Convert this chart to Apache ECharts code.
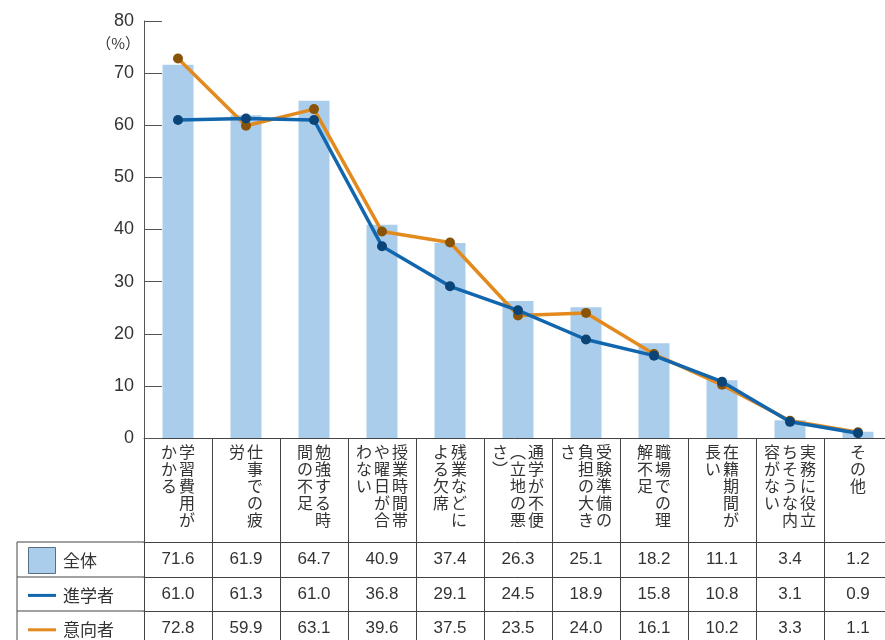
<!DOCTYPE html>
<html>
<head>
<meta charset="utf-8">
<script src="https://cdn.jsdelivr.net/npm/echarts@6/dist/echarts.min.js"></script>
<style>
  html, body { margin: 0; padding: 0; background: #fff; }
  #chart { width: 885px; height: 640px; }
</style>
</head>
<body>
<div id="chart"></div>
<script>
// categories (full text) and how each one is split into vertical columns, right to left
const categories = [
  '学習費用がかかる', '仕事での疲労', '勉強する時間の不足', '授業時間帯や曜日が合わない',
  '残業などによる欠席', '通学が不便（立地の悪さ）', '受験準備の負担の大きさ', '職場での理解不足',
  '在籍期間が長い', '実務に役立ちそうな内容がない', 'その他'
];
const labelColumns = [
  ['学習費用が', 'かかる'],
  ['仕事での疲', '労'],
  ['勉強する時', '間の不足'],
  ['授業時間帯', 'や曜日が合', 'わない'],
  ['残業などに', 'よる欠席'],
  ['通学が不便', '︵立地の悪', 'さ︶'],
  ['受験準備の', '負担の大き', 'さ'],
  ['職場での理', '解不足'],
  ['在籍期間が', '長い'],
  ['実務に役立', 'ちそうな内', '容がない'],
  ['その他']
];
const seriesNames = ['全体', '進学者', '意向者'];
const total = [71.6, 61.9, 64.7, 40.9, 37.4, 26.3, 25.1, 18.2, 11.1, 3.4, 1.2];
const students = [61.0, 61.3, 61.0, 36.8, 29.1, 24.5, 18.9, 15.8, 10.8, 3.1, 0.9];
const intending = [72.8, 59.9, 63.1, 39.6, 37.5, 23.5, 24.0, 16.1, 10.2, 3.3, 1.1];
const yTicks = [0, 10, 20, 30, 40, 50, 60, 70, 80];

const tableRows = [total, students, intending];

const lineColor = '#444';
const textColor = '#333';
const cjk = "'Noto Sans CJK JP'";
const num = "'Liberation Sans', 'Noto Sans CJK JP'";

const myChart = echarts.init(document.getElementById('chart'));

// build vertical text as rows of fixed-width rich tokens
function verticalLabel(value, index) {
  const cols = labelColumns[index];
  const rows = Math.max.apply(null, cols.map(c => c.length));
  const lines = [];
  for (let r = 0; r < rows; r++) {
    let line = '';
    for (let c = cols.length - 1; c >= 0; c--) {
      const ch = cols[c][r] || '　';
      line += '{c|' + ch + '}';
    }
    lines.push(line);
  }
  return lines.join('\n');
}

const tableAxes = tableRows.map((row, i) => ({
  type: 'category',
  gridIndex: 0,
  position: 'bottom',
  offset: [104, 139, 173][i],
  data: categories,
  axisLine: { show: true, lineStyle: { color: lineColor, width: 1 } },
  axisTick: { show: true, interval: 0, length: 35, lineStyle: { color: lineColor } },
  axisLabel: {
    interval: 0,
    margin: 9,
    hideOverlap: false,
    fontSize: 17,
    color: textColor,
    fontFamily: num,
    formatter: (v, idx) => row[idx].toFixed(1)
  },
  splitLine: { show: false }
}));

myChart.setOption({
  animation: false,
  grid: {
    left: 144,
    right: -7,
    top: 21,
    bottom: 202,
    containLabel: false,
    outerBoundsMode: 'none'
  },
  legend: {
    orient: 'vertical',
    left: 28,
    top: 547,
    height: 110,
    padding: 0,
    itemWidth: 28,
    itemHeight: 26,
    itemGap: 8.4,
    selectedMode: false,
    textStyle: { fontSize: 17, lineHeight: 26, color: textColor, fontFamily: cjk, padding: [0, 0, 0, 2] },
    data: [
      { name: seriesNames[0], icon: 'path://M0,0h27v26h-27z', itemStyle: { color: '#abcdec', borderColor: '#5a6e82', borderWidth: 1 } },
      { name: seriesNames[1], icon: 'path://M0,0h28v3h-28z', itemStyle: { color: '#1166ad', borderWidth: 0 } },
      { name: seriesNames[2], icon: 'path://M0,0h28v3h-28z', itemStyle: { color: '#e38a1e', borderWidth: 0 } }
    ]
  },
  xAxis: [
    {
      type: 'category',
      gridIndex: 0,
      position: 'bottom',
      data: categories,
      axisLine: { show: true, lineStyle: { color: lineColor, width: 1 } },
      axisTick: { show: true, interval: 0, length: 104, lineStyle: { color: lineColor } },
      axisLabel: {
        interval: 0,
        margin: 5,
        hideOverlap: false,
        color: textColor,
        formatter: verticalLabel,
        rich: {
          c: { width: 18, align: 'center', fontSize: 16, lineHeight: 17, fontFamily: cjk, color: textColor }
        }
      },
      splitLine: { show: false }
    }
  ].concat(tableAxes),
  yAxis: {
    type: 'value',
    min: yTicks[0],
    max: yTicks[yTicks.length - 1],
    interval: 10,
    name: '（%）',
    nameLocation: 'end',
    nameGap: -22,
    nameTextStyle: {
      fontSize: 15,
      color: textColor,
      fontFamily: cjk,
      align: 'right',
      verticalAlign: 'middle',
      padding: [0, 4, 0, 0]
    },
    axisLine: { show: true, lineStyle: { color: '#555', width: 1 } },
    axisTick: { show: true, inside: true, length: 18, lineStyle: { color: '#555' } },
    axisLabel: { fontSize: 18, color: textColor, margin: 10, fontFamily: num },
    splitLine: { show: false }
  },
  series: [
    {
      name: seriesNames[0],
      type: 'bar',
      xAxisIndex: 0,
      barWidth: 31,
      itemStyle: { color: '#abcdec' },
      data: total,
      z: 1
    },
    {
      name: seriesNames[2],
      type: 'line',
      xAxisIndex: 0,
      symbol: 'circle',
      symbolSize: 10,
      lineStyle: { color: '#e38a1e', width: 3.5 },
      itemStyle: { color: '#8a5408' },
      data: intending,
      z: 3
    },
    {
      name: seriesNames[1],
      type: 'line',
      xAxisIndex: 0,
      symbol: 'circle',
      symbolSize: 10,
      lineStyle: { color: '#1166ad', width: 3.5 },
      itemStyle: { color: '#0b4577' },
      data: students,
      z: 4
    }
  ],
  graphic: [
    // frame of the legend column of the table
    { type: 'line', shape: { x1: 17, y1: 542, x2: 144, y2: 542 }, style: { stroke: lineColor, lineWidth: 1 } },
    { type: 'line', shape: { x1: 17, y1: 577, x2: 144, y2: 577 }, style: { stroke: lineColor, lineWidth: 1 } },
    { type: 'line', shape: { x1: 17, y1: 611, x2: 144, y2: 611 }, style: { stroke: lineColor, lineWidth: 1 } },
    { type: 'line', shape: { x1: 17, y1: 542, x2: 17, y2: 640 }, style: { stroke: lineColor, lineWidth: 1 } }
  ]
});
</script>
</body>
</html>
